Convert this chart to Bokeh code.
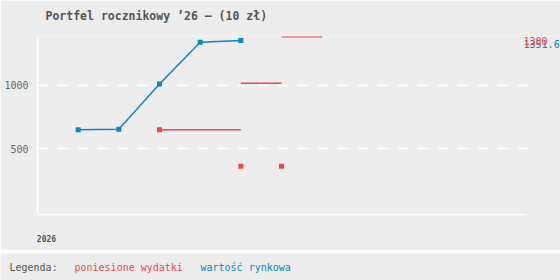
from bokeh.plotting import figure
from bokeh.models import Range1d, FixedTicker, Label, Title
from bokeh.layouts import column
from bokeh.core.properties import value
from bokeh.embed import file_html
from bokeh.resources import INLINE

# ---- data ----
title_text = "Portfel rocznikowy \u201926 \u2013 (10 z\u0142)"
value_months = [1, 2, 3, 4, 5]
market_values = [650, 655, 1010, 1337, 1351.6]
expense_months = [3, 5, 6]
expense_amounts = [650, 365, 365]
y_ticks = [500, 1000]
x_tick_labels = {0.22: "2026"}
legend_labels = ["Legenda:", "poniesione wydatki", "warto\u015b\u0107 rynkowa"]

# cumulative expenses
cum = []
s = 0
for a in expense_amounts:
    s += a
    cum.append(s)
seg_end = expense_months[1:] + [expense_months[-1] + 1]

BG = "#ededed"
BLUE = "#0a86cc"
RED = "#f44646"
FONT = "DejaVu Sans Mono"

p = figure(width=560, height=250, output_backend="svg", toolbar_location=None,
           x_range=Range1d(0, 12.86), y_range=Range1d(-14, 1382),
           min_border_left=37, min_border_right=0, min_border_top=36, min_border_bottom=36,
           background_fill_color=BG, border_fill_color=BG, outline_line_color=None)
p.title.visible = False
p.add_layout(Title(text=" ", text_font_size="6px", text_font=FONT, standoff=0), "above")
p.add_layout(Title(text=title_text, text_font=FONT, text_font_size="11.5px",
                   text_font_style="bold", text_color="#555555", align="left",
                   offset=8), "above")

p.xgrid.visible = False
p.ygrid.ticker = FixedTicker(ticks=y_ticks)
p.ygrid.grid_line_color = "white"
p.ygrid.grid_line_width = 1.5
p.ygrid.grid_line_dash = "11 9"
if "cross_bounds" in p.ygrid.properties():
    p.ygrid.cross_bounds = (0, 12.05)

p.yaxis.ticker = FixedTicker(ticks=y_ticks)
p.yaxis.axis_line_color = "white"
p.yaxis.axis_line_width = 1.5
p.yaxis.major_tick_line_color = None
p.yaxis.minor_tick_line_color = None
p.yaxis.major_tick_out = 0
p.yaxis.major_tick_in = 0
p.yaxis.minor_tick_out = 0
p.yaxis.major_label_text_font = FONT
p.yaxis.major_label_text_font_size = "10px"
p.yaxis.major_label_text_color = "#666666"
p.yaxis.major_label_standoff = 9

p.xaxis.ticker = FixedTicker(ticks=list(x_tick_labels.keys()))
p.xaxis.major_label_overrides = x_tick_labels
p.xaxis.bounds = (0, 12)
p.xaxis.axis_line_color = "white"
p.xaxis.axis_line_width = 1.5
p.xaxis.major_tick_line_color = None
p.xaxis.minor_tick_line_color = None
p.xaxis.major_tick_out = 0
p.xaxis.major_tick_in = 0
p.xaxis.minor_tick_out = 0
p.xaxis.major_label_text_font = FONT
p.xaxis.major_label_text_font_size = "8px"
p.xaxis.major_label_text_font_style = "bold"
p.xaxis.major_label_text_color = "#555555"
p.xaxis.major_label_standoff = 20

# market value
p.line(value_months, market_values, line_color=BLUE, line_width=1.5)
p.scatter(value_months, market_values, marker="square", size=5,
          fill_color=BLUE, line_color=None)

# expenses: cumulative steps + individual amounts
p.segment(x0=expense_months, y0=cum, x1=seg_end, y1=cum, line_color=RED, line_width=1.5)
p.scatter(expense_months, expense_amounts, marker="square", size=5,
          fill_color=RED, line_color=None)

for v, c in [(market_values[-1], BLUE), (cum[-1], RED)]:
    p.add_layout(Label(x=12, y=v, text=f"{v:g}", x_offset=-2, text_baseline="top",
                       text_align="left", text_color=c, text_font=FONT,
                       text_font_size="10px"))

# legend strip
lg = figure(width=560, height=27, output_backend="svg", toolbar_location=None,
            x_range=Range1d(0, 560), y_range=Range1d(0, 27),
            x_axis_location=None, y_axis_location=None,
            min_border=0, min_border_left=0, min_border_right=0,
            min_border_top=0, min_border_bottom=0,
            background_fill_color=BG, border_fill_color=BG, outline_line_color=None)
lg.grid.visible = False
lg.text(x=[9, 74, 200], y=[13, 13, 13], text=legend_labels,
        text_color=["#555555", RED, BLUE], text_font=value(FONT),
        text_font_size="10px", text_baseline="middle", text_align="left")

layout = column(p, column(lg, spacing=0), spacing=3)
open("out.html", "w").write(file_html(layout, INLINE))
